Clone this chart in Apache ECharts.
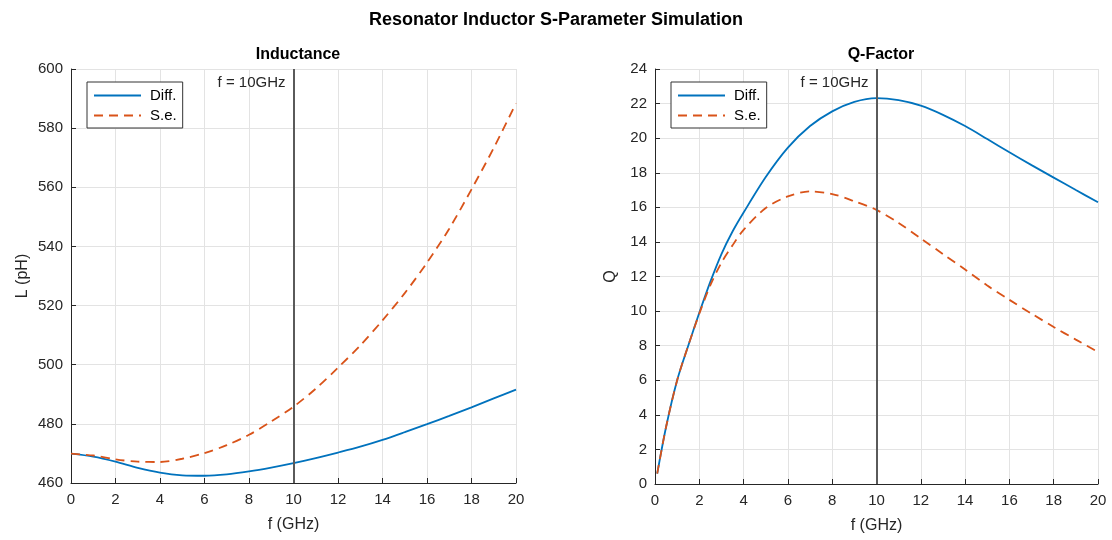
<!DOCTYPE html>
<html><head><meta charset="utf-8">
<script src="https://cdn.jsdelivr.net/npm/echarts@6/dist/echarts.min.js"></script>
<style>html,body{margin:0;padding:0;background:#fff}#c{width:1112px;height:540px}</style>
</head><body><div id="c"></div>
<script>
// Inductance (left)
const fL = [0, 1, 2, 3, 4, 5, 6, 7, 8, 9, 10, 11, 12, 13, 14, 15, 16, 17, 18, 19, 20];
const lDiff = [469.9, 468.9, 467.2, 465.1, 463.5, 462.6, 462.45, 462.9, 463.9, 465.2, 466.7, 468.4, 470.3, 472.3, 474.6, 477.2, 479.9, 482.7, 485.6, 488.6, 491.6];
const lSe = [469.9, 469.3, 468.0, 467.2, 467.1, 468.2, 470.1, 472.8, 476.3, 480.8, 485.8, 491.9, 499.0, 506.5, 515.0, 524.2, 534.5, 546.0, 559.3, 573.3, 588.4];
// Q-factor (right)
const fQ = [0.1, 0.5, 1, 1.5, 2, 2.5, 3, 3.5, 4, 5, 6, 7, 8, 9, 10, 11, 12, 13, 14, 15, 16, 17, 18, 19, 20];
const qDiff = [0.6, 3.3, 6.0, 8.0, 9.9, 11.7, 13.3, 14.6, 15.7, 17.75, 19.45, 20.7, 21.55, 22.1, 22.32, 22.2, 21.88, 21.35, 20.7, 19.95, 19.18, 18.44, 17.72, 17.0, 16.29];
const qSe = [0.6, 3.3, 6.0, 8.0, 9.85, 11.5, 12.8, 13.8, 14.7, 15.96, 16.63, 16.92, 16.77, 16.35, 15.85, 15.1, 14.2, 13.3, 12.4, 11.48, 10.65, 9.85, 9.08, 8.35, 7.64];
const markerF = 10;
const markerText = 'f = 10GHz';

const zip = (xs, ys) => xs.map((x, i) => [x, ys[i]]);
const BLUE = '#0072BD', ORANGE = '#D95319', TXT = '#262626', FONT = '"Liberation Sans", Arial, sans-serif';

function xAxis(gi) {
  return {
    type: 'value', gridIndex: gi, min: 0, max: 20, interval: 2,
    name: 'f (GHz)', nameLocation: 'middle', nameGap: 34,
    nameTextStyle: { color: TXT, fontSize: 16, fontFamily: FONT },
    axisLine: { show: true, lineStyle: { color: TXT, width: 1 } },
    axisTick: { show: true, inside: true, length: 5, lineStyle: { color: TXT } },
    axisLabel: { color: TXT, fontSize: 15, fontFamily: FONT, margin: 9 },
    splitLine: { show: true, lineStyle: { color: '#e3e3e3', width: 1 } }
  };
}
function yAxis(gi, min, max, interval, name, gap) {
  return {
    type: 'value', gridIndex: gi, min, max, interval,
    name, nameLocation: 'middle', nameGap: gap, nameRotate: 90,
    nameTextStyle: { color: TXT, fontSize: 16, fontFamily: FONT },
    axisLine: { show: true, lineStyle: { color: TXT, width: 1 } },
    axisTick: { show: true, inside: true, length: 5, lineStyle: { color: TXT } },
    axisLabel: { color: TXT, fontSize: 15, fontFamily: FONT, margin: 8 },
    splitLine: { show: true, lineStyle: { color: '#e3e3e3', width: 1 } }
  };
}
function marker(labelY) {
  return {
    markLine: {
      silent: true, symbol: 'none',
      lineStyle: { color: '#5a5a5a', width: 2, type: 'solid' },
      label: { show: false },
      data: [{ xAxis: markerF }]
    },
    markPoint: {
      silent: true, symbol: 'circle', symbolSize: 0,
      data: [{ coord: [markerF, labelY] }],
      label: { show: true, position: 'left', distance: 8, formatter: markerText, color: TXT, fontSize: 15, fontFamily: FONT }
    }
  };
}
function series(name, data, xi, color, dashed, extra) {
  return Object.assign({
    name, type: 'line', xAxisIndex: xi, yAxisIndex: xi, data, smooth: 0.3,
    showSymbol: false, symbol: 'none',
    lineStyle: { color, width: 1.8, type: dashed ? [9, 6] : 'solid' },
    itemStyle: { color }, z: 3
  }, extra || {});
}
function legend(left) {
  return {
    orient: 'vertical', left, top: 82, data: ['Diff.', 'S.e.'],
    backgroundColor: '#fff', borderColor: '#333', borderWidth: 1,
    padding: [6, 6, 5, 6], itemGap: 5, itemWidth: 47, itemHeight: 16,
    itemStyle: { opacity: 0 },
    textStyle: { color: '#000', fontSize: 15, fontFamily: FONT, padding: [0, 0, 0, 4] },
    selectedMode: false
  };
}

const chart = echarts.init(document.getElementById('c'), null, { renderer: 'canvas' });
chart.setOption({
  backgroundColor: '#fff',
  animation: false,
  title: [
    { text: 'Resonator Inductor S-Parameter Simulation', left: 'center', top: 6,
      textStyle: { fontSize: 18, fontWeight: 'bold', color: '#000', fontFamily: FONT } },
    { text: 'Inductance', left: 293, textAlign: 'center', top: 42,
      textStyle: { fontSize: 16, fontWeight: 'bold', color: '#000', fontFamily: FONT } },
    { text: 'Q-Factor', left: 876, textAlign: 'center', top: 42,
      textStyle: { fontSize: 16, fontWeight: 'bold', color: '#000', fontFamily: FONT } }
  ],
  legend: [legend(87), legend(671)],
  grid: [
    { left: 71, right: 596, top: 69, bottom: 57 },
    { left: 655, right: 14, top: 69, bottom: 56 }
  ],
  xAxis: [xAxis(0), xAxis(1)],
  yAxis: [yAxis(0, 460, 600, 20, 'L (pH)', 40), yAxis(1, 0, 24, 2, 'Q', 36)],
  series: [
    series('Diff.', zip(fL, lDiff), 0, BLUE, false, marker(595.3)),
    series('S.e.', zip(fL, lSe), 0, ORANGE, true),
    series('Diff.', zip(fQ, qDiff), 1, BLUE, false, marker(23.2)),
    series('S.e.', zip(fQ, qSe), 1, ORANGE, true)
  ]
});
</script></body></html>
